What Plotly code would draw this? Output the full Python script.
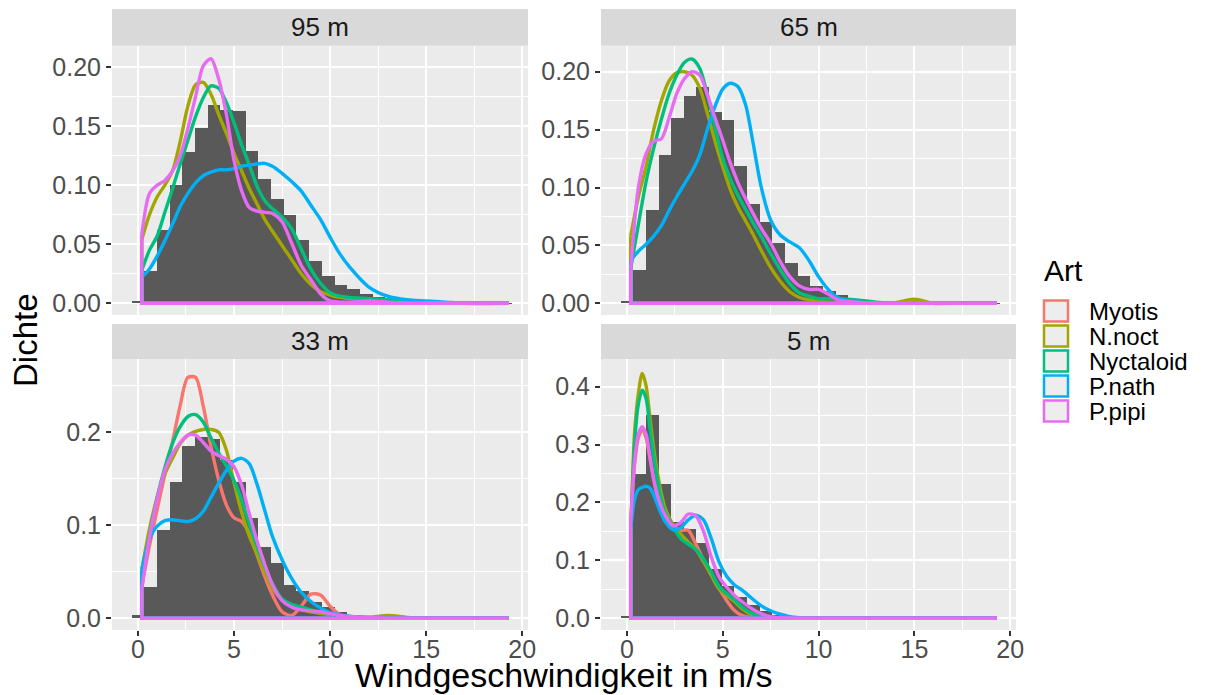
import plotly.graph_objects as go

W, H = 1206, 695
FONT = "Liberation Sans, Arial, sans-serif"

# ---------------- data ----------------
species = ["Myotis", "N.noct", "Nyctaloid", "P.nath", "P.pipi"]
colors = ["#F8766D", "#A3A500", "#00BF7D", "#00B0F6", "#E76BF3"]
panels = ["95 m", "65 m", "33 m", "5 m"]

# histogram (all species pooled), density per bin, bin width 0.66
bin_centers = [0.00, 0.66, 1.32, 1.98, 2.64, 3.30, 3.96, 4.62, 5.28, 5.94,
               6.60, 7.26, 7.92, 8.58, 9.24, 9.90, 10.56, 11.22, 11.88, 12.54,
               13.20, 13.86, 14.52, 15.18, 15.84, 16.50, 17.16, 17.82, 18.48, 19.14]
bin_width = 0.66
hist_95 = [0.002, 0.027, 0.062, 0.100, 0.128, 0.148, 0.168, 0.164, 0.163, 0.129,
           0.105, 0.088, 0.075, 0.054, 0.036, 0.023, 0.0155, 0.012, 0.0076, 0.005,
           0.003, 0.002, 0.0012, 0.0008, 0.0005, 0.0003, 0.0002, 0.0001, 0.0001, 0.0001]
hist_65 = [0.002, 0.029, 0.081, 0.128, 0.160, 0.179, 0.187, 0.1655, 0.158, 0.119,
           0.086, 0.070, 0.052, 0.035, 0.024, 0.015, 0.011, 0.007, 0.0035, 0.0014,
           0.001, 0.0006, 0.0004, 0.0003, 0.0002, 0.0001, 0.0001, 0.0, 0.0, 0.0001]
hist_33 = [0.003, 0.034, 0.095, 0.147, 0.185, 0.195, 0.1925, 0.170, 0.147, 0.1075,
           0.077, 0.059, 0.036, 0.029, 0.017, 0.0125, 0.007, 0.0036, 0.0012, 0.0006,
           0.0004, 0.0002, 0.0001, 0.0001, 0.0, 0.0, 0.0, 0.0, 0.0, 0.0]
hist_5 = [0.004, 0.250, 0.351, 0.232, 0.167, 0.154, 0.130, 0.086, 0.056, 0.037,
          0.023, 0.012, 0.006, 0.003, 0.0012, 0.0006, 0.0003, 0.0001, 0.0, 0.0,
          0.0, 0.0, 0.0, 0.0, 0.0, 0.0, 0.0, 0.0, 0.0, 0.0]

# density curves read at these wind speeds
grid_a = [0.2, 0.6, 1.0, 1.4, 1.8, 2.2, 2.6, 3.0, 3.4, 3.8, 4.2, 4.6, 5.0, 5.4, 5.8,
          6.2, 6.6, 7.0, 7.5, 8.0, 8.5, 9.0, 9.5, 10.0, 10.5, 11.0, 12.0, 13.0, 14.0,
          15.0, 16.0, 17.0, 19.3]
grid_b = [0.2, 0.4, 0.6, 0.8, 1.0, 1.2, 1.4, 1.6, 1.8, 2.0, 2.4, 2.8, 3.2, 3.6, 4.0,
          4.4, 4.8, 5.2, 5.6, 6.0, 6.5, 7.0, 7.5, 8.0, 8.5, 9.0, 9.5, 10.0, 11.0, 12.0,
          13.0, 15.0, 17.0, 19.3]

# 95 m
nnoct_95 = [0.054, 0.075, 0.090, 0.100, 0.112, 0.137, 0.167, 0.185, 0.187, 0.177, 0.160,
            0.144, 0.127, 0.112, 0.097, 0.084, 0.071, 0.061, 0.049, 0.037, 0.025, 0.016,
            0.010, 0.007, 0.005, 0.004, 0.003, 0.001, 0.0, 0.0, 0.0, 0.0, 0.0]
nyct_95 = [0.028, 0.045, 0.057, 0.077, 0.097, 0.118, 0.138, 0.158, 0.174, 0.184, 0.182,
           0.170, 0.153, 0.134, 0.117, 0.099, 0.087, 0.080, 0.073, 0.063, 0.046, 0.029,
           0.017, 0.009, 0.006, 0.005, 0.004, 0.003, 0.002, 0.001, 0.0, 0.0, 0.0]
pnath_95 = [0.022, 0.029, 0.040, 0.053, 0.067, 0.082, 0.093, 0.102, 0.108, 0.111, 0.113,
            0.113, 0.114, 0.116, 0.117, 0.118, 0.1185, 0.116, 0.110, 0.103, 0.095, 0.083,
            0.071, 0.056, 0.042, 0.031, 0.014, 0.006, 0.003, 0.002, 0.001, 0.0, 0.0]
ppipi_95 = [0.058, 0.093, 0.100, 0.104, 0.112, 0.125, 0.148, 0.175, 0.201, 0.207, 0.190,
            0.160, 0.121, 0.095, 0.081, 0.078, 0.077, 0.076, 0.069, 0.051, 0.032, 0.020,
            0.008, 0.002, 0.001, 0.001, 0.002, 0.001, 0.0, 0.0, 0.0, 0.0, 0.0]
# 65 m
nnoct_65 = [0.058, 0.092, 0.118, 0.150, 0.175, 0.192, 0.199, 0.200, 0.197, 0.186, 0.164,
            0.140, 0.118, 0.098, 0.083, 0.071, 0.059, 0.046, 0.031, 0.019, 0.010, 0.005,
            0.003, 0.002, 0.001, 0.001, 0.0, 0.0, 0.0005, 0.0035, 0.0, 0.0, 0.0]
nyct_65 = [0.030, 0.068, 0.105, 0.134, 0.159, 0.181, 0.197, 0.208, 0.211, 0.203, 0.180,
           0.152, 0.125, 0.107, 0.093, 0.081, 0.069, 0.058, 0.043, 0.029, 0.017, 0.009,
           0.006, 0.004, 0.004, 0.004, 0.003, 0.001, 0.0, 0.0, 0.0, 0.0, 0.0]
pnath_65 = [0.037, 0.045, 0.051, 0.058, 0.067, 0.080, 0.092, 0.103, 0.114, 0.128, 0.150,
            0.170, 0.185, 0.190, 0.187, 0.171, 0.137, 0.101, 0.072, 0.059, 0.053, 0.048,
            0.037, 0.023, 0.012, 0.005, 0.001, 0.0, 0.0, 0.0, 0.0, 0.0, 0.0]
ppipi_65 = [0.029, 0.100, 0.129, 0.140, 0.142, 0.160, 0.181, 0.194, 0.200, 0.197, 0.180,
            0.160, 0.141, 0.121, 0.104, 0.090, 0.077, 0.065, 0.052, 0.036, 0.023, 0.015,
            0.012, 0.012, 0.008, 0.003, 0.001, 0.0, 0.0, 0.0, 0.0, 0.0, 0.0]
# 33 m
myotis_33 = [0.034, 0.078, 0.117, 0.155, 0.190, 0.229, 0.259, 0.259, 0.228, 0.185, 0.149,
             0.122, 0.108, 0.104, 0.091, 0.068, 0.045, 0.025, 0.007, 0.003, 0.013, 0.026,
             0.025, 0.013, 0.004, 0.001, 0.0, 0.0, 0.0, 0.0, 0.0, 0.0, 0.0]
nnoct_33 = [0.052, 0.096, 0.130, 0.155, 0.172, 0.188, 0.197, 0.201, 0.203, 0.203, 0.200,
            0.181, 0.146, 0.114, 0.088, 0.069, 0.050, 0.032, 0.020, 0.013, 0.009, 0.007,
            0.005, 0.004, 0.003, 0.002, 0.001, 0.003, 0.001, 0.0, 0.0, 0.0, 0.0]
nyct_33 = [0.038, 0.088, 0.130, 0.162, 0.188, 0.206, 0.217, 0.219, 0.211, 0.194, 0.178,
           0.164, 0.148, 0.127, 0.101, 0.077, 0.056, 0.037, 0.021, 0.015, 0.012, 0.009,
           0.007, 0.005, 0.003, 0.002, 0.001, 0.0, 0.0, 0.0, 0.0, 0.0, 0.0]
pnath_33 = [0.052, 0.085, 0.099, 0.105, 0.106, 0.105, 0.104, 0.107, 0.115, 0.130, 0.145,
            0.159, 0.169, 0.172, 0.166, 0.144, 0.116, 0.088, 0.063, 0.043, 0.028, 0.018,
            0.011, 0.006, 0.004, 0.002, 0.001, 0.0, 0.0, 0.0, 0.0, 0.0, 0.0]
ppipi_33 = [0.031, 0.087, 0.128, 0.159, 0.177, 0.189, 0.197, 0.197, 0.189, 0.180, 0.175,
            0.171, 0.163, 0.143, 0.112, 0.083, 0.058, 0.036, 0.019, 0.012, 0.009, 0.008,
            0.007, 0.005, 0.003, 0.002, 0.001, 0.0, 0.0, 0.0, 0.0, 0.0, 0.0]
# 5 m
myotis_5 = [0.160, 0.265, 0.312, 0.325, 0.312, 0.277, 0.240, 0.210, 0.190, 0.176, 0.160,
            0.152, 0.152, 0.128, 0.100, 0.075, 0.052, 0.031, 0.014, 0.005, 0.001, 0.0,
            0.0, 0.0, 0.0, 0.0, 0.0, 0.0, 0.0, 0.0, 0.0, 0.0, 0.0, 0.0]
nnoct_5 = [0.140, 0.320, 0.388, 0.423, 0.402, 0.348, 0.293, 0.250, 0.215, 0.190, 0.162,
           0.146, 0.132, 0.119, 0.098, 0.075, 0.051, 0.040, 0.029, 0.017, 0.006, 0.002,
           0.001, 0.0, 0.0, 0.0, 0.0, 0.0, 0.0, 0.0, 0.0, 0.0, 0.0, 0.0]
nyct_5 = [0.140, 0.300, 0.370, 0.394, 0.380, 0.330, 0.280, 0.238, 0.204, 0.182, 0.158,
          0.138, 0.128, 0.119, 0.102, 0.080, 0.055, 0.043, 0.032, 0.020, 0.009, 0.004,
          0.002, 0.001, 0.0, 0.0, 0.0, 0.0, 0.0, 0.0, 0.0, 0.0, 0.0, 0.0]
pnath_5 = [0.153, 0.205, 0.222, 0.226, 0.228, 0.225, 0.213, 0.196, 0.180, 0.167, 0.153,
           0.156, 0.170, 0.178, 0.170, 0.138, 0.098, 0.073, 0.058, 0.049, 0.035, 0.022,
           0.013, 0.007, 0.003, 0.001, 0.0, 0.0, 0.0, 0.0, 0.0, 0.0, 0.0, 0.0]
ppipi_5 = [0.165, 0.270, 0.318, 0.331, 0.318, 0.280, 0.240, 0.212, 0.192, 0.178, 0.160,
           0.165, 0.180, 0.177, 0.150, 0.106, 0.072, 0.054, 0.040, 0.029, 0.017, 0.008,
           0.003, 0.001, 0.0, 0.0, 0.0, 0.0, 0.0, 0.0, 0.0, 0.0, 0.0, 0.0]

panel_data = {
    "95 m": (hist_95, grid_a, {"N.noct": nnoct_95, "Nyctaloid": nyct_95,
                               "P.nath": pnath_95, "P.pipi": ppipi_95}),
    "65 m": (hist_65, grid_a, {"N.noct": nnoct_65, "Nyctaloid": nyct_65,
                               "P.nath": pnath_65, "P.pipi": ppipi_65}),
    "33 m": (hist_33, grid_a, {"Myotis": myotis_33, "N.noct": nnoct_33, "Nyctaloid": nyct_33,
                               "P.nath": pnath_33, "P.pipi": ppipi_33}),
    "5 m": (hist_5, grid_b, {"Myotis": myotis_5, "N.noct": nnoct_5, "Nyctaloid": nyct_5,
                             "P.nath": pnath_5, "P.pipi": ppipi_5}),
}

# ---------------- layout geometry (pixels) ----------------
geom = {
    "95 m": dict(ax="", xpx=(112, 528), ypx=(46, 315), yr=(-0.0099, 0.2178), dt=0.05, fmt=".2f", xlab=False, strip=(9, 45.7)),
    "65 m": dict(ax="2", xpx=(601, 1016), ypx=(46, 315), yr=(-0.0101, 0.2222), dt=0.05, fmt=".2f", xlab=False, strip=(9, 45.7)),
    "33 m": dict(ax="3", xpx=(112, 528), ypx=(359, 630), yr=(-0.0126, 0.2788), dt=0.1, fmt=".1f", xlab=True, strip=(324, 359)),
    "5 m": dict(ax="4", xpx=(601, 1016), ypx=(359, 630), yr=(-0.0202, 0.4478), dt=0.1, fmt=".1f", xlab=True, strip=(324, 359)),
}
XR = (-1.35, 20.3)


def fx(p):
    return p / W


def fy(p):
    return 1 - p / H


fig = go.Figure()
shapes = []
annotations = []
layout = dict(
    width=W, height=H, margin=dict(l=0, r=0, t=0, b=0),
    paper_bgcolor="white", plot_bgcolor="#EBEBEB", showlegend=False,
    bargap=0, font=dict(family=FONT),
)

for name in panels:
    g = geom[name]
    hist, grid, curves = panel_data[name]
    xa, ya = "x" + g["ax"], "y" + g["ax"]
    fig.add_trace(go.Bar(x=bin_centers, y=hist, width=bin_width, marker=dict(color="#595959", line=dict(width=0)),
                         xaxis=xa, yaxis=ya, hoverinfo="skip"))
    for sp, col in zip(species, colors):
        if sp not in curves:
            continue
        vals = curves[sp]
        fig.add_trace(go.Scatter(x=grid, y=vals, mode="lines",
                                 line=dict(color=col, width=3.4, shape="spline", smoothing=0.8),
                                 xaxis=xa, yaxis=ya, hoverinfo="skip"))
        # polygon outline closure (left edge + baseline)
        fig.add_trace(go.Scatter(x=[grid[0], grid[0], grid[-1], grid[-1]], y=[vals[0], 0, 0, vals[-1]], mode="lines",
                                 line=dict(color=col, width=3.4), xaxis=xa, yaxis=ya, hoverinfo="skip"))

    layout["xaxis" + g["ax"]] = dict(
        domain=[fx(g["xpx"][0]), fx(g["xpx"][1])], range=list(XR), anchor=ya,
        showgrid=True, gridcolor="white", gridwidth=2, zeroline=False,
        tick0=0, dtick=5, showticklabels=g["xlab"], ticks="outside" if g["xlab"] else "",
        ticklen=5, tickwidth=1.5, tickcolor="#333333", ticklabelstandoff=-8,
        tickfont=dict(size=25, color="#4D4D4D", family=FONT),
        minor=dict(tick0=0, dtick=2.5, showgrid=True, gridcolor="white", gridwidth=1, ticks=""),
        showline=False, automargin=False, fixedrange=True,
    )
    layout["yaxis" + g["ax"]] = dict(
        domain=[fy(g["ypx"][1]), fy(g["ypx"][0])], range=list(g["yr"]), anchor=xa,
        showgrid=True, gridcolor="white", gridwidth=2, zeroline=False,
        tick0=0, dtick=g["dt"], tickformat=g["fmt"], ticks="outside",
        ticklen=5, tickwidth=1.5, tickcolor="#333333",
        tickfont=dict(size=25, color="#4D4D4D", family=FONT),
        minor=dict(tick0=0, dtick=g["dt"] / 2, showgrid=True, gridcolor="white", gridwidth=1, ticks=""),
        showline=False, automargin=False, fixedrange=True,
    )
    # facet strip
    shapes.append(dict(type="rect", xref="paper", yref="paper",
                       x0=fx(g["xpx"][0]), x1=fx(g["xpx"][1]),
                       y0=fy(g["strip"][1]), y1=fy(g["strip"][0]),
                       fillcolor="#D9D9D9", line=dict(width=0), layer="below"))
    annotations.append(dict(text=name, xref="paper", yref="paper",
                            x=fx((g["xpx"][0] + g["xpx"][1]) / 2), y=fy((g["strip"][0] + g["strip"][1]) / 2),
                            showarrow=False, xanchor="center", yanchor="middle",
                            font=dict(size=26, color="#1A1A1A", family=FONT)))

# axis titles
annotations.append(dict(text="Windgeschwindigkeit in m/s", xref="paper", yref="paper",
                        x=fx(564), y=fy(696), showarrow=False, xanchor="center", yanchor="bottom",
                        font=dict(size=34, color="black", family=FONT)))
annotations.append(dict(text="Dichte", xref="paper", yref="paper", textangle=-90,
                        x=fx(25), y=fy(340), showarrow=False, xanchor="center", yanchor="middle",
                        font=dict(size=33, color="black", family=FONT)))

# legend (drawn manually)
annotations.append(dict(text="Art", xref="paper", yref="paper", x=fx(1042), y=fy(271),
                        showarrow=False, xanchor="left", yanchor="middle",
                        font=dict(size=30, color="black", family=FONT)))
row_centers = [311, 336, 361, 386, 411]
for sp, col, yc in zip(species, colors, row_centers):
    shapes.append(dict(type="rect", xref="paper", yref="paper",
                       x0=fx(1044), x1=fx(1068), y0=fy(yc + 10.5), y1=fy(yc - 10.5),
                       fillcolor="#EDEDED", line=dict(color=col, width=2.5)))
    annotations.append(dict(text=sp, xref="paper", yref="paper", x=fx(1087), y=fy(yc),
                            showarrow=False, xanchor="left", yanchor="middle",
                            font=dict(size=24, color="black", family=FONT)))

layout["shapes"] = shapes
layout["annotations"] = annotations
fig.update_layout(**layout)
fig.write_html("out.html", config={"displayModeBar": False},
               post_script="document.body.style.margin='0px';document.body.style.overflow='hidden';")
